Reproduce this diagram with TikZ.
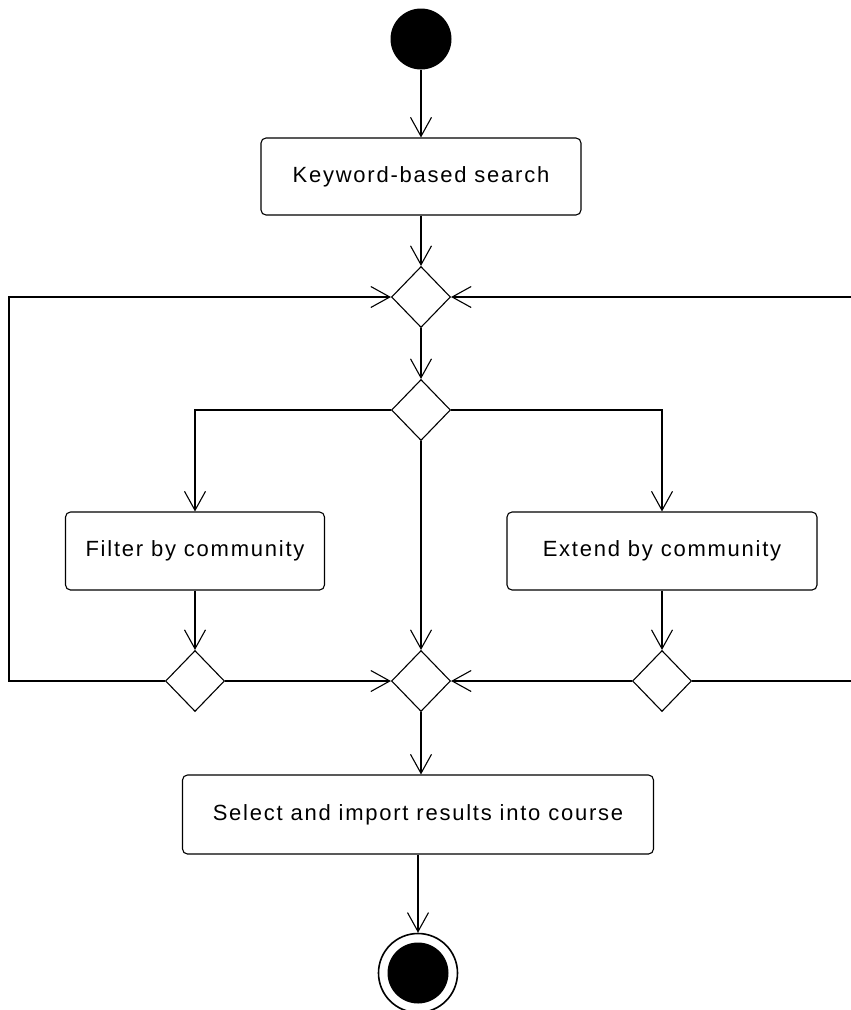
\documentclass[tikz,border=0pt]{standalone}
\usepackage{fontspec}
\newfontfamily\umlfont[LetterSpace=8]{Liberation Sans}
\usetikzlibrary{arrows.meta,shapes.geometric}
\begin{document}
\begin{tikzpicture}[x=1pt,y=-1pt,
  line width=1.1pt,
  arr/.style={-{Straight Barb[length=19pt,width=21pt,line width=1.1pt]}},
  actbox/.style={draw,rounded corners=5pt,inner sep=0pt,font=\umlfont\fontsize{22}{26}\selectfont},
  dec/.style={draw,diamond,inner sep=0pt,minimum width=59pt,minimum height=61pt,fill=white},
]
\useasboundingbox (0,0) rectangle (851,1010);
\clip (0,0) rectangle (851,1010);
\node[circle,fill=black,inner sep=0pt,minimum size=61pt] (start) at (421,39) {};
\node[actbox,minimum width=320pt,minimum height=77pt] (kw) at (421,176.5) {Keyword-based search};
\node[dec] (d1) at (421,297) {};
\node[dec] (d2) at (421,410) {};
\node[actbox,minimum width=259pt,minimum height=78pt] (filt) at (195,551) {Filter by community};
\node[actbox,minimum width=310pt,minimum height=78pt] (ext) at (662,551) {Extend by community};
\node[dec] (dl) at (195,681) {};
\node[dec] (dm) at (421,681) {};
\node[dec] (dr) at (662,681) {};
\node[actbox,minimum width=471pt,minimum height=79pt] (sel) at (418,814.5) {Select and import results into course};
\node[circle,draw,line width=1.6pt,inner sep=0pt,minimum size=79pt] (end) at (418,973) {};
\node[circle,fill=black,inner sep=0pt,minimum size=61pt] (endin) at (418,973) {};
\coordinate (lc) at (9,297);
\coordinate (rc) at (870,297);

\draw[arr] (start) -- (kw);
\draw[arr] (kw) -- (d1);
\draw[arr] (d1) -- (d2);
\draw[arr] (d2.west) -| (filt.north);
\draw[arr] (d2.east) -| (ext.north);
\draw[arr] (d2.south) -- (dm.north);
\draw[arr] (filt) -- (dl);
\draw[arr] (ext) -- (dr);
\draw[arr] (dl.east) -- (dm.west);
\draw[arr] (dr.west) -- (dm.east);
\draw[arr] (dl.west) -| (lc) -- (d1.west);
\draw[arr] (dr.east) -| (rc) -- (d1.east);
\draw[arr] (dm.south) -- (sel.north -| dm.south);
\draw[arr] (sel.south -| end.north) -- (end.north);
\end{tikzpicture}
\end{document}
